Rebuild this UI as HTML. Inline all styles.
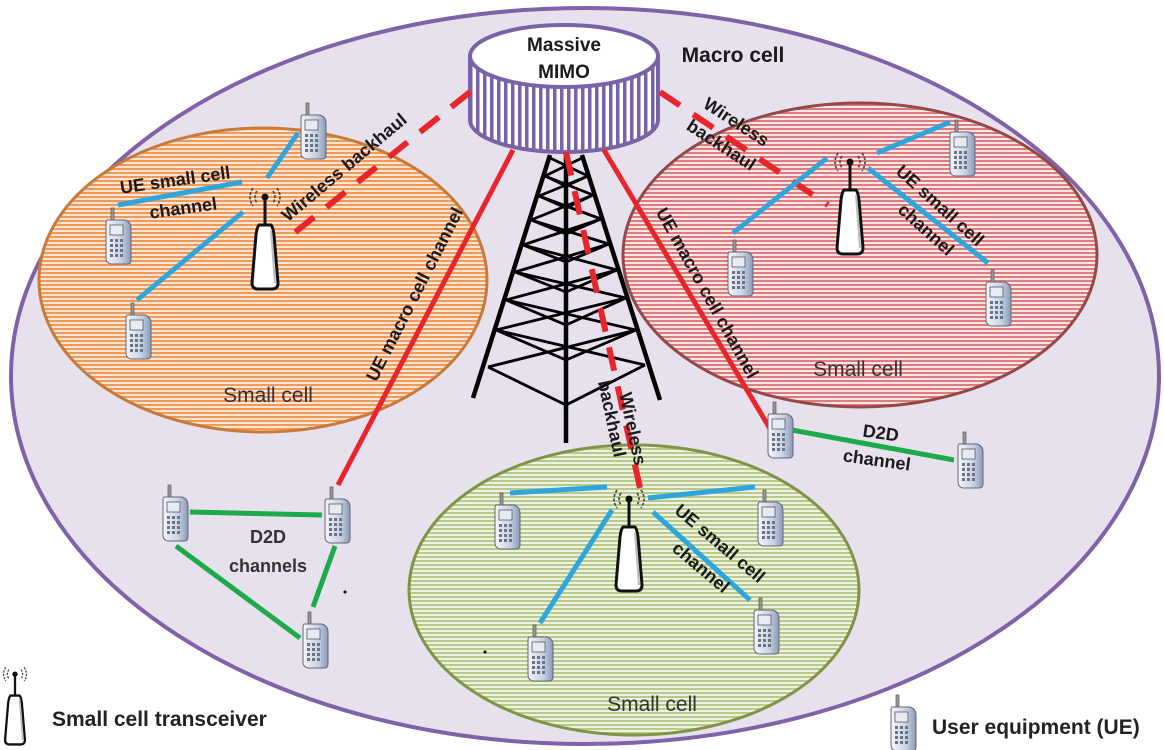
<!DOCTYPE html>
<html><head><meta charset="utf-8"><style>
html,body{margin:0;padding:0;background:#fff;}
svg{display:block;}
text{font-family:"Liberation Sans",sans-serif;font-weight:bold;fill:#1a1a1a;}
.n{font-weight:normal;fill:#333;}
</style></head><body>
<svg width="1164" height="750" viewBox="0 0 1164 750" xmlns="http://www.w3.org/2000/svg">
<defs>
<pattern id="po" width="6" height="4" patternUnits="userSpaceOnUse"><rect width="6" height="4" fill="#fbe4d0"/><rect width="6" height="2" fill="#ee9a5c"/></pattern>
<pattern id="pr" width="6" height="4" patternUnits="userSpaceOnUse"><rect width="6" height="4" fill="#fae6e6"/><rect width="6" height="2" fill="#dd7c7c"/></pattern>
<pattern id="pg" width="6" height="4" patternUnits="userSpaceOnUse"><rect width="6" height="4" fill="#eef2e0"/><rect width="6" height="2" fill="#b8c98c"/></pattern>
<pattern id="pv" width="7" height="10" patternUnits="userSpaceOnUse"><rect width="7" height="10" fill="#fff"/><rect width="3.5" height="10" fill="#7a62a8"/></pattern>
<linearGradient id="ph" x1="0" x2="1"><stop offset="0" stop-color="#f4f6fa"/><stop offset="0.6" stop-color="#c8d2e2"/><stop offset="1" stop-color="#8a9ab8"/></linearGradient>
<symbol id="phone" viewBox="0 0 30 56" width="30" height="56" overflow="visible">
<rect x="8" y="0" width="3" height="12" fill="#999" stroke="#555" stroke-width="0.7"/>
<path d="M4 12 L22 12 Q28 14 28 20 L28 52 Q28 56 24 56 L8 56 Q3 55 3 50 L3 14 Z" fill="url(#ph)" stroke="#667" stroke-width="1"/>
<rect x="7" y="17" width="13" height="10" fill="#e8ecf2" stroke="#556" stroke-width="0.8"/>
<g fill="#6a7488"><rect x="7" y="31" width="3" height="3"/><rect x="12" y="31" width="3" height="3"/><rect x="17" y="31" width="3" height="3"/><rect x="7" y="36" width="3" height="3"/><rect x="12" y="36" width="3" height="3"/><rect x="17" y="36" width="3" height="3"/><rect x="7" y="41" width="3" height="3"/><rect x="12" y="41" width="3" height="3"/><rect x="17" y="41" width="3" height="3"/><rect x="7" y="46" width="3" height="3"/><rect x="12" y="46" width="3" height="3"/><rect x="17" y="46" width="3" height="3"/></g>
</symbol>
<symbol id="tx" viewBox="0 0 40 110" width="40" height="110" overflow="visible">
<g fill="none" stroke="#444" stroke-width="1.6" stroke-dasharray="3 1.5">
<path d="M12 6 Q8 12 12 18"/><path d="M8 3 Q2 12 8 21"/><path d="M28 6 Q32 12 28 18"/><path d="M32 3 Q38 12 32 21"/></g>
<circle cx="20" cy="12" r="3.5" fill="#111"/>
<line x1="20" y1="12" x2="20" y2="42" stroke="#111" stroke-width="3"/>
<path d="M14 40 L26 40 Q28 42 29 50 L33 98 Q33 104 27 104 L13 104 Q7 104 7 98 L11 50 Q12 42 14 40 Z" fill="#fff" stroke="#111" stroke-width="3"/>
<path d="M26 45 L30 98" stroke="#bbb" stroke-width="2"/>
</symbol>
</defs>

<ellipse cx="585" cy="376" rx="574" ry="368" fill="#e7e1ee" stroke="#8062a8" stroke-width="4"/>

<ellipse cx="263" cy="280" rx="224" ry="152" fill="url(#po)" stroke="#c87a38" stroke-width="3"/>
<ellipse cx="860" cy="255" rx="237" ry="152" fill="url(#pr)" stroke="#944848" stroke-width="3"/>
<ellipse cx="634" cy="590" rx="225" ry="145" fill="url(#pg)" stroke="#7f9444" stroke-width="3"/>

<g stroke="#000" fill="none" stroke-width="4.5">
<line x1="566" y1="150" x2="566" y2="443"/>
<line x1="550" y1="155" x2="473" y2="398"/>
<line x1="582" y1="155" x2="660" y2="400"/>
</g>
<g stroke="#000" fill="none" stroke-width="2.8">
<path d="M488 367 L566 405 L645 365"/>
<path d="M496 330 L566 360 L636 330"/>
<path d="M506 300 L566 325 L626 298"/>
<path d="M515 272 L566 292 L617 270"/>
<path d="M523 245 L566 262 L609 244"/>
<path d="M531 220 L566 234 L601 219"/>
<path d="M539 196 L566 208 L593 195"/>
<path d="M545 176 L566 186 L588 176"/>
<path d="M488 367 L636 330 M645 365 L496 330"/>
<path d="M496 330 L626 298 M636 330 L506 300"/>
<path d="M506 300 L617 270 M626 298 L515 272"/>
<path d="M515 272 L609 244 M617 270 L523 245"/>
<path d="M523 245 L601 219 M609 244 L531 220"/>
<path d="M531 220 L593 195 M601 219 L539 196"/>
<path d="M539 196 L588 176 M593 195 L545 176"/>
<path d="M545 176 L582 158 M588 176 L550 158"/>
</g>

<path d="M470 56 L470 120 A94 32 0 0 0 658 120 L658 56 Z" fill="url(#pv)" stroke="#7a62a8" stroke-width="4"/>
<ellipse cx="564" cy="56" rx="94" ry="31" fill="#fff" stroke="#7a62a8" stroke-width="4"/>

<g stroke="#e8252a" stroke-width="5" fill="none">
<line x1="513" y1="150" x2="338" y2="485"/>
<line x1="604" y1="150" x2="772" y2="432"/>
</g>
<g stroke="#e8252a" stroke-width="6" fill="none" stroke-dasharray="24 16">
<line x1="470" y1="92" x2="288" y2="238"/>
<line x1="566" y1="152" x2="640" y2="488"/>
<line x1="660" y1="92" x2="828" y2="205"/>
</g>

<g stroke="#2ea6dc" stroke-width="5" fill="none">
<line x1="118" y1="205" x2="242" y2="182"/>
<line x1="267" y1="178" x2="298" y2="133"/>
<line x1="243" y1="212" x2="137" y2="300"/>
<line x1="827" y1="158" x2="733" y2="233"/>
<line x1="877" y1="153" x2="950" y2="122"/>
<line x1="868" y1="168" x2="988" y2="263"/>
<line x1="510" y1="493" x2="607" y2="487"/>
<line x1="648" y1="498" x2="755" y2="487"/>
<line x1="612" y1="510" x2="540" y2="623"/>
<line x1="653" y1="512" x2="750" y2="600"/>
</g>
<g stroke="#1eaa4a" stroke-width="5" fill="none">
<line x1="190" y1="512" x2="322" y2="515"/>
<line x1="176" y1="546" x2="300" y2="638"/>
<line x1="335" y1="546" x2="313" y2="607"/>
<line x1="792" y1="430" x2="954" y2="460"/>
</g>

<use href="#tx" x="245" y="185"/>
<use href="#tx" x="830" y="150"/>
<use href="#tx" x="609" y="487"/>
<use href="#tx" x="-3" y="665" width="36" height="84"/>

<use href="#phone" x="298" y="103"/>
<use href="#phone" x="103" y="208"/>
<use href="#phone" x="123" y="303"/>
<use href="#phone" x="725" y="240"/>
<use href="#phone" x="947" y="120"/>
<use href="#phone" x="983" y="270"/>
<use href="#phone" x="765" y="402"/>
<use href="#phone" x="955" y="432"/>
<use href="#phone" x="160" y="485"/>
<use href="#phone" x="322" y="487"/>
<use href="#phone" x="300" y="612"/>
<use href="#phone" x="492" y="493"/>
<use href="#phone" x="755" y="490"/>
<use href="#phone" x="525" y="625"/>
<use href="#phone" x="751" y="598"/>
<use href="#phone" x="888" y="695"/>

<text x="564" y="51" font-size="19" text-anchor="middle">Massive</text>
<text x="564" y="78" font-size="19" text-anchor="middle">MIMO</text>
<text x="733" y="62" font-size="21" text-anchor="middle">Macro cell</text>

<text transform="translate(176,186) rotate(-8)" font-size="18" text-anchor="middle">UE small cell</text>
<text transform="translate(184,214) rotate(-8)" font-size="18" text-anchor="middle">channel</text>
<text transform="translate(348,172) rotate(-40)" font-size="18" text-anchor="middle">Wireless backhaul</text>
<text transform="translate(420,297) rotate(-63)" font-size="18" text-anchor="middle">UE macro cell channel</text>
<text x="268" y="402" font-size="21" class="n" text-anchor="middle">Small cell</text>

<text transform="translate(733,127) rotate(33)" font-size="18" text-anchor="middle">Wireless</text>
<text transform="translate(718,150) rotate(33)" font-size="18" text-anchor="middle">backhaul</text>
<text transform="translate(936,210) rotate(42)" font-size="18" text-anchor="middle">UE small cell</text>
<text transform="translate(922,234) rotate(42)" font-size="18" text-anchor="middle">channel</text>
<text transform="translate(702,296) rotate(61)" font-size="18" text-anchor="middle">UE macro cell channel</text>
<text x="858" y="376" font-size="21" class="n" text-anchor="middle">Small cell</text>
<text transform="translate(880,439) rotate(8)" font-size="18" text-anchor="middle">D2D</text>
<text transform="translate(876,466) rotate(8)" font-size="18" text-anchor="middle">channel</text>

<text transform="translate(627,430) rotate(78)" font-size="18" text-anchor="middle">Wireless</text>
<text transform="translate(606,420) rotate(78)" font-size="18" text-anchor="middle">backhaul</text>
<text transform="translate(716,548) rotate(40)" font-size="18" text-anchor="middle">UE small cell</text>
<text transform="translate(697,572) rotate(40)" font-size="18" text-anchor="middle">channel</text>
<text x="652" y="711" font-size="21" class="n" text-anchor="middle">Small cell</text>

<text x="268" y="543" font-size="18" style="fill:#333" text-anchor="middle">D2D</text>
<text x="268" y="572" font-size="18" style="fill:#333" text-anchor="middle">channels</text>

<circle cx="345" cy="592" r="1.5" fill="#000"/>
<circle cx="485" cy="652" r="1.5" fill="#000"/>

<text x="52" y="726" font-size="21" style="fill:#222">Small cell transceiver</text>
<text x="932" y="734" font-size="21" style="fill:#222">User equipment (UE)</text>
</svg>
</body></html>
